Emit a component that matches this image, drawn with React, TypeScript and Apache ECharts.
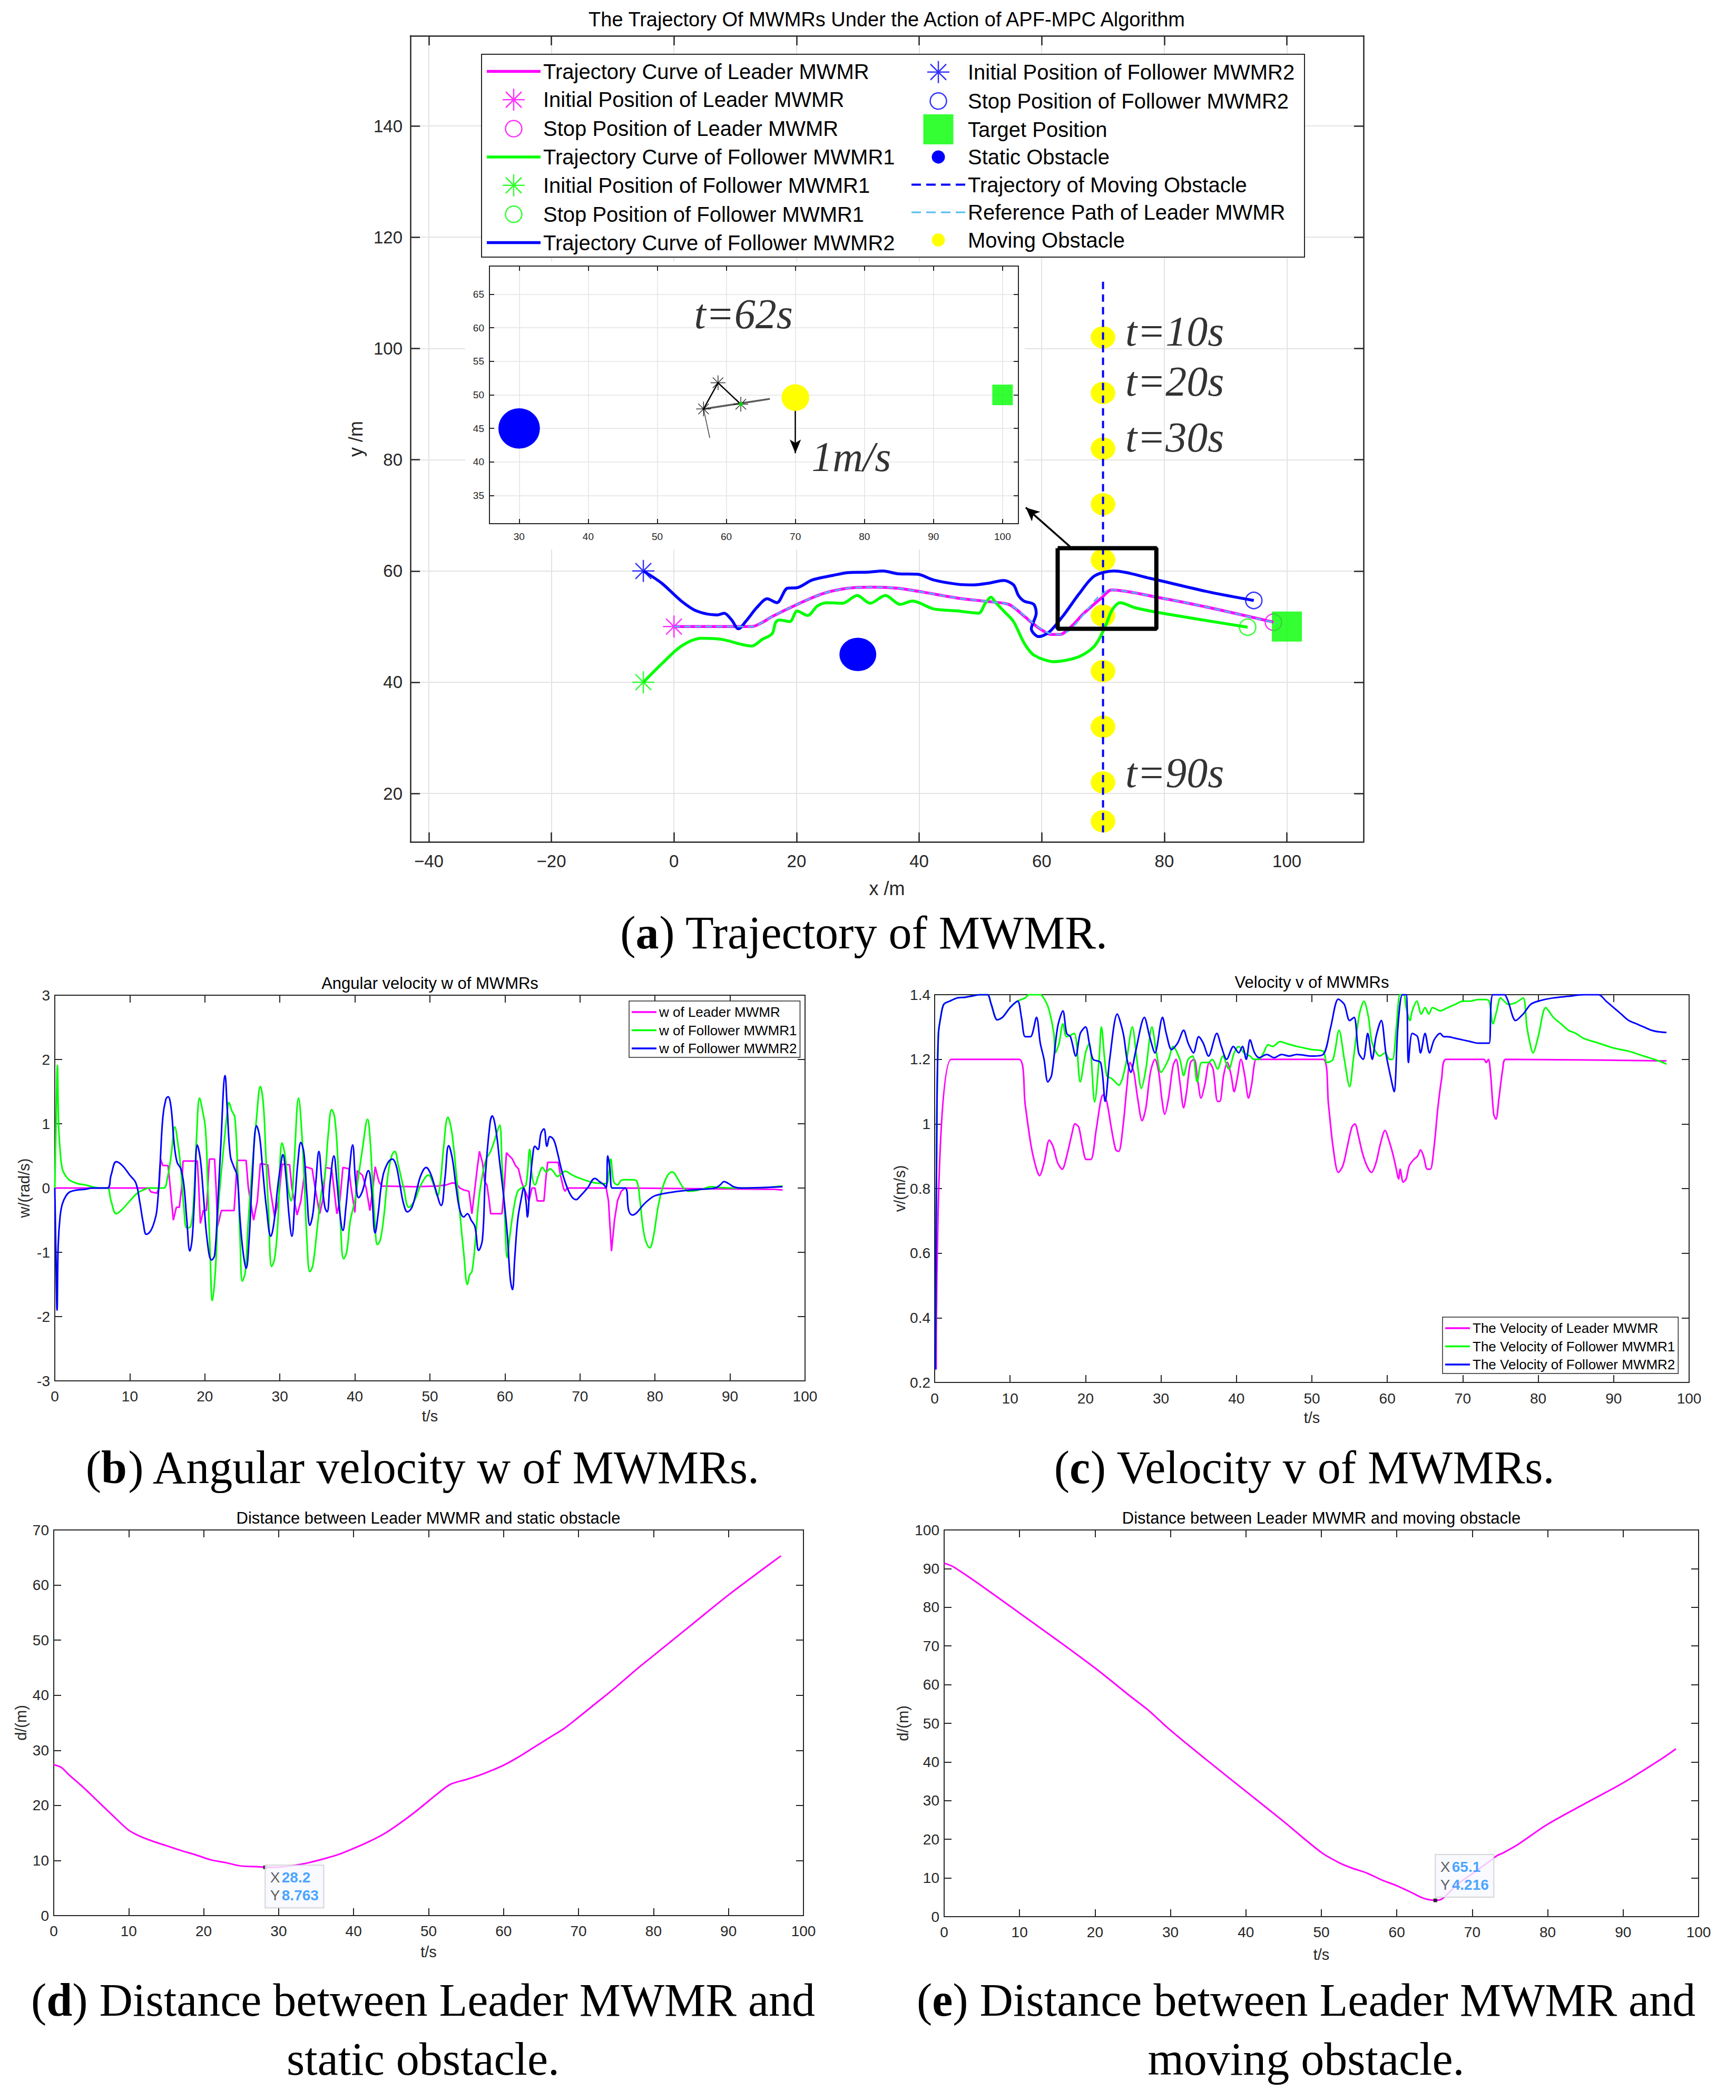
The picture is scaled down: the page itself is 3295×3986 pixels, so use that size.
import React, { useEffect, useRef } from 'react';
import * as echarts from 'echarts';

// ===================== DATA =====================
// (a) trajectories [x, y] in metres
const LEADER_PATH = [[0,50],[12.7,50],[14.5,50.8],[16,51.8],[20.1,54],[24.2,55.9],[28.3,56.9],[32.4,57.1],[36.5,56.9],[40.6,56.2],[46.4,55.1],[51.3,54.5],[54.6,54],[56.5,52.5],[58.5,50.6],[60.3,49.2],[61.5,48.6],[63,48.6],[64.9,50.1],[66.8,52.3],[69.8,55.2],[71.4,56.6],[79.2,55.2],[87.4,53.4],[97.8,50.8]];
const REF_PATH = [[0,50],[12.7,50],[14.5,50.8],[16,51.8],[20.1,54],[24.2,55.9],[28.3,56.9],[32.4,57.1],[36.5,56.9],[40.6,56.2],[46.4,55.1],[51.3,54.5],[54.6,54],[56.5,52.6],[58.5,50.7],[60.3,49.3],[61.5,48.7],[63,48.6],[71.4,56.6],[79.2,55.2],[87.4,53.4],[98.4,50.6]];
const F1_PATH = [[-5,40],[-2,43.3],[1.2,46.5],[4.5,47.9],[7.8,47.7],[12.7,46.5],[14.4,47.7],[16,48.7],[16.6,50.8],[17.2,51.2],[18.9,50.9],[20.1,52.8],[21.8,52],[23.4,53.7],[25,54.3],[27.5,54.2],[29.9,55.6],[32,54.2],[34.5,55.6],[36.9,54],[38.9,54.6],[42.3,53.2],[46.4,52.8],[49.7,52.4],[50.8,54.2],[51.7,55.3],[52.6,54.2],[53.8,52.8],[55.4,50.9],[57.1,47.1],[58.7,44.9],[62,43.7],[66.1,44.6],[68.6,46.5],[70.2,49.6],[71.5,53],[72.8,54.3],[75.2,53.4],[80.2,52.3],[93.6,49.9]];
const F2_PATH = [[-5,60],[-2,57.8],[1.2,54.6],[3.7,52.8],[7,52.1],[8.2,52.4],[9.4,51.2],[10.5,49.6],[11.9,51.2],[13.5,53.4],[15.2,55],[16.8,54.3],[18.5,56.9],[20.1,57],[22.6,58.4],[25.9,59.2],[28.3,59.7],[31.6,59.8],[34.1,60],[36.5,59.5],[39.8,59.4],[42.3,58.4],[46.4,57.6],[48.9,57.5],[51.3,57.8],[53.8,58.3],[55.4,57.5],[56.2,55.6],[57.1,54.6],[58.7,54],[59.1,52.4],[58.3,49.6],[59.5,48.2],[61.2,49],[63.6,52.1],[66.1,55.9],[68.6,59.1],[71.8,60],[77.6,58.7],[87.4,56.2],[94.6,54.7]];
const LEADER_START = [0, 50];
const LEADER_STOP = [97.8, 50.8];
const F1_START = [-5, 40];
const F1_STOP = [93.6, 49.9];
const F2_START = [-5, 60];
const F2_STOP = [94.6, 54.7];
const TARGET = [100, 50];
const STATIC_OBS = [30, 45];
const STATIC_OBS_R = 3;
const MOVING_OBS_X = 70;
const MOVING_OBS_Y = [102, 92, 82, 72, 62, 52, 42, 32, 22, 15];
const MOVING_OBS_R = 2;
const MOVING_TRAJ = [[70, 112], [70, 13]];
const TIME_LABELS = ['t=10s', 't=20s', 't=30s', 't=90s'];
const TIME_LABEL_POS = [[73.6, 103.1], [73.6, 94.1], [73.6, 84.0], [73.6, 23.7]];
const ZOOM_BOX = [[62.6, 64.1], [78.7, 64.1], [78.7, 49.6], [62.6, 49.6], [62.6, 64.1]];
const ZOOM_ARROW = [[64.6, 64.4], [57.4, 71.4]];
const A_X_TICKS = [-40, -20, 0, 20, 40, 60, 80, 100];
const A_Y_TICKS = [20, 40, 60, 80, 100, 120, 140];

// (a) inset at t = 62 s
const IN_X_TICKS = [30, 40, 50, 60, 70, 80, 90, 100];
const IN_Y_TICKS = [35, 40, 45, 50, 55, 60, 65];
const IN_YELLOW = [70, 49.6];
const IN_FORMATION = [[56.7, 47.9], [58.8, 51.8], [62.1, 48.6]];
const IN_HEADING = [[56.7, 47.9], [66.3, 49.4]];
const IN_HEADING_THIN = [[56.7, 47.9], [57.6, 43.6]];
const IN_ARROW = [[70, 49.4], [70, 41.3]];
const IN_LABELS = ['t=62s', '1m/s'];
const IN_LABEL_POS = [[55.3, 62.05], [72.3, 40.8]];

// (b) angular velocity [t, w]
const W_LEADER = [[0,0],[12.5,0],[12.8,-0.06],[13.6,-0.08],[13.9,0],[14.1,0.45],[14.4,0.35],[15.1,0.35],[15.4,0],[15.8,-0.5],[16.2,-0.3],[16.6,-0.3],[16.9,0],[17.1,0.42],[19.0,0.42],[19.2,0],[19.4,-0.55],[19.8,-0.35],[20.2,-0.35],[20.4,0],[20.6,0.45],[21.3,0.45],[21.5,0],[21.7,-0.6],[22.2,-0.35],[23.9,-0.35],[24.1,0],[24.3,0.43],[25.5,0.43],[25.8,0],[26.5,-0.5],[27.0,-0.2],[27.4,0.38],[28.4,0.36],[28.7,0],[29.3,-0.45],[29.8,-0.2],[30.3,0.37],[31.3,0.36],[31.6,0],[32.3,-0.42],[32.8,-0.2],[33.4,0.33],[34.3,0.3],[34.7,0],[35.3,-0.4],[35.7,-0.2],[36.1,0.32],[36.9,0.3],[37.2,0],[37.6,-0.4],[38.0,-0.2],[38.4,0.32],[39.2,0.3],[39.5,0],[40.0,-0.38],[40.3,0.27],[41.0,0.2],[41.5,0],[42.0,-0.35],[42.4,0],[42.7,0.33],[43.2,0.1],[43.6,0.03],[48,0.02],[51,0.03],[52.2,0.05],[53.0,0.08],[53.5,0.07],[54.0,0],[54.5,-0.03],[55.2,-0.05],[55.6,-0.4],[55.9,-0.1],[56.1,0.1],[56.3,0.3],[56.6,0.57],[57.0,0.4],[57.3,0.1],[57.6,0.05],[57.9,-0.2],[58.1,-0.4],[59.6,-0.4],[59.9,0],[60.2,0.55],[60.6,0.5],[61.0,0.45],[61.4,0.35],[61.8,0.3],[62.2,0.1],[62.5,0],[62.9,-0.1],[63.2,-0.2],[63.6,0],[64.0,0],[64.3,-0.2],[65.2,-0.2],[65.5,0.2],[65.7,0.4],[67.1,0.4],[67.4,0.2],[67.8,0],[68.0,-0.05],[68.3,0],[73.5,0],[73.8,-0.2],[74.2,-0.98],[74.6,-0.5],[75.0,-0.2],[75.5,-0.05],[76,0],[96,-0.02],[97,-0.03]];
const W_F1 = [[0,0],[0.2,1.2],[0.35,1.91],[0.5,1.0],[0.7,0.6],[1,0.3],[1.5,0.18],[2,0.12],[3,0.07],[4,0.05],[5,0.02],[6,0],[7,0],[7.5,-0.2],[8.2,-0.4],[9,-0.33],[10,-0.2],[11,-0.08],[12,-0.02],[12.5,0],[14.5,0],[15,0.15],[15.5,0.5],[16,0.95],[16.4,0.7],[16.8,0.3],[17.2,-0.3],[17.6,-0.62],[18.1,-0.6],[18.5,-0.2],[18.9,0.8],[19.3,1.4],[19.7,1.2],[20.1,0.9],[20.4,0],[20.7,-1.0],[21.0,-1.75],[21.4,-1.3],[21.8,-0.3],[22.4,0.5],[23.0,1.2],[23.2,1.33],[23.6,1.2],[24.0,1.1],[24.4,0.2],[24.7,-0.8],[25.0,-1.45],[25.4,-1.3],[25.8,-0.5],[26.3,0.3],[26.9,1.1],[27.4,1.58],[27.8,1.3],[28.1,0.6],[28.5,-0.4],[28.9,-1.22],[29.3,-1.1],[29.7,-0.6],[30.3,0.7],[30.7,0.5],[31.1,0],[31.5,-0.2],[31.9,0.4],[32.5,1.4],[32.9,0.9],[33.3,0],[33.6,-0.8],[34.0,-1.3],[34.4,-1.2],[35.0,-0.6],[35.5,-0.1],[36.0,0.2],[36.5,0.9],[36.9,1.22],[37.3,1.1],[37.7,0.5],[38.1,-0.6],[38.5,-1.1],[38.9,-1.0],[39.4,-0.5],[40.0,-0.2],[40.5,0.2],[41.0,0.6],[41.7,1.07],[42.0,0.8],[42.3,0.2],[42.7,-0.6],[43.0,-0.88],[43.4,-0.8],[43.9,-0.4],[44.4,0.2],[44.9,0.5],[45.3,0.57],[45.8,0.35],[46.5,0],[47.2,-0.3],[48.0,-0.18],[48.8,0.05],[49.8,0.2],[50.5,0.05],[51.0,-0.12],[51.4,0.1],[51.8,0.6],[52.4,1.1],[52.8,0.95],[53.2,0.6],[53.6,0.1],[54.0,-0.4],[54.5,-1.0],[55.0,-1.5],[55.3,-1.35],[55.6,-1.3],[56.0,-0.9],[56.5,-0.2],[57.0,0.2],[57.5,0.45],[58.0,0.55],[58.5,0.7],[58.9,0.85],[59.3,0.98],[59.6,0.4],[60.0,-0.5],[60.3,-1.08],[60.7,-0.7],[61.2,-0.3],[61.7,-0.05],[62.2,0],[62.8,0.05],[63.3,0.6],[63.6,0.2],[64.0,0.05],[64.5,0.2],[65.0,0.32],[65.5,0.25],[66.0,0.3],[66.5,0.25],[67.0,0.18],[67.5,0.22],[68.0,0.26],[69.0,0.2],[70.0,0.15],[71.0,0.11],[72.0,0.08],[73.5,0.07],[73.8,0.2],[74.1,0.45],[74.5,0.1],[75.0,0.05],[75.5,0.12],[76.0,0.13],[77.0,0.13],[77.6,0.1],[78.0,-0.2],[78.6,-0.75],[79.3,-0.93],[79.8,-0.75],[80.4,-0.3],[81.0,0],[81.7,0.2],[82.3,0.25],[83.0,0.15],[83.8,0],[84.5,-0.05],[85.5,-0.04],[86.5,-0.01],[87.5,0.02],[88.5,0.01],[90,0],[93,0],[95,0.01],[97,0.03]];
const W_F2 = [[0,0],[0.15,-1.0],[0.3,-1.9],[0.45,-0.9],[0.7,-0.45],[1,-0.25],[1.5,-0.12],[2,-0.06],[3,-0.03],[4,-0.02],[5,0],[7,0],[7.5,0.2],[8.2,0.41],[9,0.35],[10,0.2],[10.8,0.08],[11.3,-0.2],[11.8,-0.55],[12.2,-0.72],[12.7,-0.68],[13.2,-0.55],[13.6,-0.35],[14.0,0.3],[14.4,1.1],[14.8,1.38],[15.1,1.42],[15.5,1.25],[15.9,0.7],[16.3,0.4],[16.8,0.3],[17.2,0.05],[17.6,-0.5],[18.0,-0.98],[18.3,-0.8],[18.6,-0.2],[19.0,0.67],[19.4,0.45],[19.8,-0.1],[20.3,-0.8],[20.9,-1.12],[21.3,-1.05],[21.7,-0.3],[22.1,0.6],[22.7,1.75],[23.0,1.2],[23.4,0.5],[23.9,0.32],[24.3,0.2],[24.7,-0.5],[25.1,-1.0],[25.5,-1.25],[25.9,-0.8],[26.3,0.1],[26.9,0.97],[27.3,0.8],[27.7,0.3],[28.2,-0.3],[28.8,-0.75],[29.2,-0.55],[29.7,0],[30.1,0.35],[30.4,0.52],[30.8,0.2],[31.2,-0.4],[31.6,-0.75],[32.0,-0.2],[32.4,0.4],[32.8,0.71],[33.2,0.55],[33.6,-0.1],[34.0,-0.58],[34.4,-0.4],[34.8,0.1],[35.2,0.57],[35.6,0.1],[36.0,-0.3],[36.3,-0.37],[36.7,0.1],[37.2,0.5],[37.6,0.1],[38.0,-0.4],[38.4,-0.66],[38.8,-0.3],[39.2,0.2],[39.7,0.67],[40.1,0.1],[40.5,-0.15],[41.0,-0.05],[41.8,0.27],[42.2,0],[42.7,-0.7],[43.1,-0.4],[43.6,0.1],[44.2,0.35],[45.0,0.45],[45.5,0.35],[46.0,0.05],[46.5,-0.25],[47.0,-0.37],[47.6,-0.3],[48.2,-0.05],[48.8,0.2],[49.5,0.32],[50.1,0.22],[50.7,0],[51.5,-0.27],[52.0,0.15],[52.5,0.66],[53.0,0.45],[53.5,0],[54.0,-0.35],[54.5,-0.45],[55.0,-0.4],[55.5,-0.5],[56.0,-0.6],[56.5,-0.97],[57.0,-0.8],[57.4,0.2],[58.0,1.0],[58.3,1.12],[58.8,0.9],[59.3,0.4],[59.8,-0.1],[60.3,-0.7],[60.7,-1.4],[61.0,-1.58],[61.3,-1.1],[61.7,-0.5],[62.2,-0.15],[62.5,0],[62.8,-0.2],[63.0,-0.45],[63.3,0],[63.7,0.5],[64.0,0.65],[64.4,0.6],[64.8,0.85],[65.2,0.92],[65.6,0.65],[66.0,0.8],[66.5,0.75],[67.0,0.55],[67.5,0.3],[68.0,0.1],[68.5,-0.05],[69.0,-0.15],[69.5,-0.18],[70.0,-0.13],[71.0,0],[72.0,0.15],[72.6,0.1],[73.2,0.05],[73.5,0],[73.7,0.5],[74.0,0.3],[74.3,0],[76.0,0],[76.5,-0.35],[77.0,-0.42],[77.6,-0.38],[78.3,-0.28],[79.0,-0.2],[80.0,-0.12],[82.0,-0.07],[84.0,-0.04],[86.0,-0.02],[88.0,0],[88.7,0.05],[89.2,0.1],[89.8,0.07],[90.5,0.02],[91.5,0],[97,0.02]];

// (c) velocity [t, v]
const V_LEADER = [[0.2,0.24],[2.2,1.2],[11.2,1.2],[12,1.06],[12.8,0.93],[13.5,0.86],[13.9,0.84],[14.5,0.88],[15.2,0.95],[15.7,0.93],[16.3,0.88],[16.9,0.86],[17.6,0.91],[18.2,0.97],[18.6,1.0],[19.1,0.99],[19.6,0.93],[20.1,0.89],[20.7,0.89],[21.4,0.98],[22.0,1.07],[22.3,1.09],[22.8,1.07],[23.4,0.99],[24.0,0.92],[24.4,0.915],[25.0,1.0],[25.5,1.12],[25.9,1.19],[26.4,1.16],[26.9,1.08],[27.5,1.01],[28.0,1.05],[28.6,1.16],[29.2,1.2],[29.7,1.16],[30.1,1.08],[30.5,1.03],[31.0,1.08],[31.6,1.18],[32.0,1.2],[32.5,1.13],[33.0,1.05],[33.4,1.1],[33.9,1.19],[34.4,1.2],[34.9,1.13],[35.3,1.08],[35.8,1.12],[36.4,1.19],[36.9,1.17],[37.5,1.07],[37.8,1.07],[38.3,1.15],[38.8,1.19],[39.3,1.15],[39.7,1.1],[40.1,1.14],[40.6,1.2],[41.1,1.15],[41.6,1.08],[42.0,1.12],[42.6,1.2],[43.0,1.2],[51.5,1.2],[52.2,1.06],[52.8,0.93],[53.5,0.85],[54.1,0.87],[54.7,0.93],[55.3,0.99],[55.7,1.0],[56.2,0.96],[56.7,0.91],[57.3,0.87],[57.9,0.85],[58.5,0.88],[59.1,0.94],[59.7,0.98],[60.2,0.95],[60.7,0.91],[61.1,0.87],[61.5,0.83],[61.7,0.86],[62.1,0.82],[62.5,0.83],[62.9,0.87],[63.5,0.89],[64.0,0.9],[64.4,0.92],[64.8,0.9],[65.3,0.86],[65.7,0.86],[66.2,0.93],[66.7,1.05],[67.2,1.14],[67.8,1.2],[72.8,1.2],[73.1,1.19],[73.4,1.2],[73.7,1.15],[74.1,1.03],[74.4,1.015],[74.8,1.08],[75.3,1.17],[75.7,1.2],[97,1.195]];
const V_F1 = [[0.1,0.24],[0.3,1.04],[0.5,1.28],[0.8,1.33],[1.2,1.37],[2,1.38],[3,1.39],[4,1.392],[5,1.396],[6,1.4],[7,1.4],[7.5,1.37],[8.3,1.322],[9,1.33],[10,1.36],[11,1.38],[12,1.39],[12.5,1.4],[14,1.4],[14.7,1.38],[15.2,1.35],[15.8,1.28],[16,1.22],[16.5,1.25],[17,1.31],[17.5,1.27],[18.5,1.28],[19.3,1.13],[20,1.22],[20.5,1.25],[21.2,1.068],[21.8,1.2],[22.1,1.3],[22.8,1.15],[23.5,1.14],[24.4,1.12],[25.3,1.18],[26.2,1.3],[26.8,1.2],[27.4,1.11],[28,1.17],[28.8,1.3],[29.4,1.22],[30,1.16],[31,1.2],[31.6,1.24],[32.5,1.2],[33,1.15],[33.6,1.2],[34.2,1.21],[34.8,1.13],[35.4,1.19],[36.3,1.19],[36.8,1.2],[37.5,1.17],[38.2,1.21],[39,1.17],[39.7,1.22],[40.3,1.24],[41,1.22],[41.8,1.21],[42.3,1.2],[43,1.2],[43.6,1.22],[44.2,1.245],[44.8,1.24],[45.8,1.255],[46.5,1.25],[47.2,1.245],[48,1.24],[49,1.235],[50,1.23],[51.5,1.225],[52,1.19],[52.8,1.2],[53.6,1.29],[54.3,1.2],[55,1.115],[55.5,1.2],[56.3,1.34],[56.9,1.38],[57.5,1.33],[58,1.25],[59,1.21],[59.7,1.22],[60.3,1.2],[60.7,1.2],[61.2,1.3],[61.7,1.4],[62.2,1.4],[62.5,1.36],[63,1.32],[63.3,1.35],[63.9,1.38],[64.5,1.34],[65,1.36],[65.5,1.34],[66,1.36],[67,1.35],[68,1.36],[69,1.37],[70,1.38],[71,1.38],[72,1.385],[73,1.385],[73.5,1.38],[74,1.31],[74.5,1.35],[75,1.39],[75.5,1.38],[76,1.37],[77,1.375],[78,1.39],[78.5,1.3],[79,1.24],[79.3,1.22],[80,1.27],[81,1.36],[82,1.33],[83,1.31],[84,1.29],[85,1.28],[86,1.265],[88,1.25],[90,1.235],[92,1.225],[94,1.21],[96,1.195],[97,1.185]];
const V_F2 = [[0.1,0.24],[0.3,1.04],[0.5,1.28],[0.8,1.33],[1.2,1.37],[2,1.38],[3,1.39],[4,1.392],[5,1.396],[6,1.4],[7,1.4],[7.5,1.37],[8.3,1.322],[9,1.33],[10,1.36],[11,1.38],[11.5,1.33],[12,1.27],[12.7,1.27],[13.5,1.33],[14,1.25],[14.5,1.2],[15,1.13],[15.5,1.15],[16.3,1.3],[17,1.35],[17.5,1.28],[18,1.27],[18.7,1.21],[19.3,1.28],[20,1.3],[20.5,1.25],[21,1.2],[22,1.19],[22.6,1.07],[23.2,1.2],[24.2,1.34],[25,1.28],[25.5,1.2],[26,1.16],[26.6,1.22],[27.8,1.33],[28.5,1.27],[29.2,1.22],[30.2,1.33],[30.7,1.28],[31.4,1.23],[32.2,1.25],[33,1.29],[33.6,1.25],[34.3,1.22],[35,1.27],[35.6,1.25],[36.3,1.21],[37.4,1.28],[38,1.24],[38.7,1.2],[39.6,1.24],[40.3,1.22],[40.8,1.24],[41.3,1.2],[41.8,1.26],[42.4,1.22],[43,1.205],[44,1.215],[45,1.205],[46,1.215],[47,1.21],[48,1.215],[50,1.21],[51.5,1.215],[52.5,1.3],[53.5,1.386],[54.3,1.37],[55,1.32],[55.6,1.33],[56.2,1.22],[56.8,1.2],[57.4,1.28],[58,1.2],[58.5,1.27],[59.2,1.32],[59.8,1.22],[60.4,1.15],[60.9,1.1],[61.4,1.3],[62,1.4],[62.5,1.4],[62.8,1.19],[63.3,1.28],[64,1.27],[64.4,1.22],[65,1.28],[65.6,1.22],[66.2,1.26],[67,1.28],[67.5,1.27],[68,1.27],[69,1.265],[70,1.26],[71,1.255],[72,1.25],[73,1.25],[73.5,1.25],[74,1.4],[75.5,1.4],[76,1.38],[77,1.32],[78,1.34],[79,1.37],[80,1.38],[82,1.39],[84,1.395],[86,1.4],[88,1.4],[89,1.38],[90,1.36],[91,1.34],[92,1.32],[93,1.31],[94,1.3],[95,1.29],[96,1.285],[97,1.283]];

// (d) distance to static obstacle [t, d]
const D_STATIC = [[0,27.4],[1,26.9],[2,25.6],[4,23.2],[6,20.6],[8,18.0],[10,15.5],[11.5,14.4],[13,13.6],[15,12.7],[17,11.8],[19,11.0],[21,10.1],[23,9.6],[25,9.0],[27,8.9],[28.2,8.763],[30,8.8],[32,9.1],[34,9.6],[36,10.3],[38,11.1],[40,12.2],[42,13.4],[44,14.8],[46,16.6],[48,18.6],[50,20.8],[52,23.0],[53,23.9],[55,24.7],[57,25.6],[60,27.3],[62,28.8],[64,30.5],[66,32.2],[68,33.9],[70,36.0],[72,38.2],[75,41.5],[78,45.0],[80,47.2],[85,52.7],[90,58.2],[95,63.3],[97,65.3]];
const D_STATIC_TIP = [28.2, 8.763];
// (e) distance to moving obstacle [t, d]
const D_MOVING = [[0,91.4],[1,90.7],[2,89.5],[5,85.5],[10,78.5],[15,71.5],[20,64.3],[25,56.5],[27,53.5],[30,48.2],[35,40.2],[40,32.4],[45,24.6],[50,16.6],[52.5,13.8],[54,12.6],[56,11.3],[58,9.5],[60,8.0],[62,6.2],[63,5.2],[64,4.5],[65.1,4.216],[66,4.6],[68,8.3],[70,11.1],[72,13.9],[73.3,15.8],[74,16.4],[76,18.6],[80,23.9],[85,29.3],[90,34.6],[95,40.7],[97,43.4]];
const D_MOVING_TIP = [65.1, 4.216];

// ===================== STYLE / LAYOUT =====================
const W = 3295, H = 3986;
const AXC = '#262626';
const SANS = "'Liberation Sans', Arial, Helvetica, sans-serif";
const SERIF = "'Liberation Serif', 'Times New Roman', serif";
const C_MAG = '#ff00ff', C_GRN = '#00ff00', C_BLU = '#0000ff', C_YEL = '#ffff00', C_REF = '#4dbeee';
const CLEAR = 'rgba(0,0,0,0)';

const STAR = 'M0,-21L0,21M-21,0L21,0M-15,-15L15,15M-15,15L15,-15';
const PAD = 'M-28.5,-28.5M28.5,28.5';
const SYM_ASTER = 'path://' + STAR;
const ICON_ASTER = 'path://' + PAD + STAR;
const ICON_RING = 'path://' + PAD + 'M15.5,0A15.5,15.5,0,1,1,-15.5,0A15.5,15.5,0,1,1,15.5,0Z';
const ICON_DOT = 'path://' + PAD + 'M12.5,0A12.5,12.5,0,1,1,-12.5,0A12.5,12.5,0,1,1,12.5,0Z';
const ICON_SQUARE = 'path://M-28.5,-28.5L28.5,-28.5L28.5,28.5L-28.5,28.5Z';
const seg = (a, b, hw) => `M${a},${-hw}L${b},${-hw}L${b},${hw}L${a},${hw}Z`;
const ICON_LINE_A = 'path://M0,-28.5M102,28.5' + seg(0, 102, 2.75);
const ICON_DASH_A = 'path://M0,-28.5M102,28.5' + seg(0, 18, 2) + seg(28, 46, 2) + seg(56, 74, 2) + seg(84, 102, 2);
const ICON_DASH_REF = 'path://M0,-28.5M102,28.5' + seg(0, 18, 1.6) + seg(28, 46, 1.6) + seg(56, 74, 1.6) + seg(84, 102, 1.6);
const ICON_LINE_S = 'path://M0,-13M47,13' + seg(0, 47, 1.8);

const GRIDS = [
  { left: 779, top: 68, width: 1809, height: 1530 },   // a main
  { left: 929, top: 505, width: 1004, height: 489 },   // a inset
  { left: 104, top: 1889, width: 1424, height: 732 },  // b
  { left: 1774, top: 1888, width: 1432, height: 736 }, // c
  { left: 102, top: 2904, width: 1423, height: 732 },  // d
  { left: 1792, top: 2904, width: 1432, height: 734 }, // e
];

function mkAxis(dim, gi, main, c) {
  const isX = dim === 'x';
  const ticks = isX ? c.xTicks : c.yTicks;
  const ax: any = {
    type: 'value', gridIndex: gi,
    position: isX ? (main ? 'bottom' : 'top') : (main ? 'left' : 'right'),
    min: isX ? c.xMin : c.yMin, max: isX ? c.xMax : c.yMax,
    z: c.z || 0, silent: true,
    axisLine: { show: true, onZero: false, lineStyle: { color: AXC, width: c.lw } },
    axisTick: { show: true, inside: true, length: c.tick, lineStyle: { color: AXC, width: c.lw } },
    axisLabel: {
      show: main, color: AXC, fontSize: c.fs, fontFamily: SANS, margin: isX ? c.xMargin : c.yMargin,
      showMinLabel: true, showMaxLabel: true, hideOverlap: false,
      formatter: (v) => (v < 0 && c.minus ? '\u2212' + Math.abs(v) : String(+v.toFixed(4))),
    },
    splitLine: { show: main && !!c.grid, lineStyle: { color: c.gridColor || '#e3e3e3', width: c.gridW || 2 } },
  };
  if (ticks) { ax.axisTick.customValues = ticks; ax.axisLabel.customValues = ticks; }
  else ax.interval = isX ? c.xInterval : c.yInterval;
  const name = isX ? c.xName : c.yName;
  if (main && name) {
    ax.name = name; ax.nameLocation = 'middle';
    ax.nameGap = isX ? c.xNameGap : c.yNameGap;
    ax.nameTextStyle = { fontSize: c.nameFs, fontFamily: SANS, color: AXC };
  }
  return ax;
}

const AXES = [
  { xMin: -43, xMax: 112.5, xTicks: A_X_TICKS, yMin: 11.3, yMax: 156.2, yTicks: A_Y_TICKS, lw: 2.5, tick: 18, fs: 33, xMargin: 20, yMargin: 15, grid: true, minus: true, xName: 'x /m', yName: 'y /m', xNameGap: 70, yNameGap: 86, nameFs: 36 },
  { xMin: 25.7, xMax: 102.3, xTicks: IN_X_TICKS, yMin: 30.8, yMax: 69.2, yTicks: IN_Y_TICKS, lw: 2, tick: 9, fs: 19, xMargin: 15, yMargin: 10, grid: true, gridW: 1.5, z: 5 },
  { xMin: 0, xMax: 100, xInterval: 10, yMin: -3, yMax: 3, yInterval: 1, lw: 2, tick: 14, fs: 28, xMargin: 15, yMargin: 9, xName: 't/s', yName: 'w/(rad/s)', xNameGap: 52, yNameGap: 44, nameFs: 29 },
  { xMin: 0, xMax: 100, xInterval: 10, yMin: 0.2, yMax: 1.4, yInterval: 0.2, lw: 2, tick: 14, fs: 28, xMargin: 16, yMargin: 8, xName: 't/s', yName: 'v/(m/s)', xNameGap: 52, yNameGap: 52, nameFs: 29 },
  { xMin: 0, xMax: 100, xInterval: 10, yMin: 0, yMax: 70, yInterval: 10, lw: 2, tick: 14, fs: 28, xMargin: 15, yMargin: 9, xName: 't/s', yName: 'd/(m)', xNameGap: 54, yNameGap: 48, nameFs: 29 },
  { xMin: 0, xMax: 100, xInterval: 10, yMin: 0, yMax: 100, yInterval: 10, lw: 2, tick: 14, fs: 28, xMargin: 15, yMargin: 9, xName: 't/s', yName: 'd/(m)', xNameGap: 57, yNameGap: 64, nameFs: 29 },
];

function lineS(name, data, color, width, gi, extra: any = {}) {
  return {
    type: 'line', name, data, xAxisIndex: gi * 2, yAxisIndex: gi * 2, symbol: 'none', showSymbol: false,
    silent: true, lineStyle: { color, width, type: 'solid' }, itemStyle: { color }, ...extra,
  };
}
function scatterS(name, data, symbol, size, color, filled, gi, extra: any = {}) {
  return {
    type: 'scatter', name, data, xAxisIndex: gi * 2, yAxisIndex: gi * 2, symbol, symbolSize: size, silent: true,
    itemStyle: filled ? { color } : { color: CLEAR, borderColor: color, borderWidth: 2.5 }, ...extra,
  };
}
function ellipseS(name, data, r, color, gi, z = 2) {
  return {
    type: 'custom', name, data, xAxisIndex: gi * 2, yAxisIndex: gi * 2, silent: true, z,
    itemStyle: { color },
    renderItem: (params, api) => {
      const c = api.coord([api.value(0), api.value(1)]);
      const s = api.size([r, r]);
      return { type: 'ellipse', shape: { cx: c[0], cy: c[1], rx: s[0], ry: s[1] }, style: { fill: color } };
    },
  };
}
function textS(name, names, pos, gi, z = 2) {
  return {
    type: 'scatter', name, xAxisIndex: gi * 2, yAxisIndex: gi * 2, silent: true, z,
    data: pos.map((p, i) => ({ value: p, name: names[i] })), symbolSize: 1, itemStyle: { color: CLEAR },
    label: { show: true, position: 'right', distance: 0, formatter: '{b}', fontFamily: SERIF, fontStyle: 'italic', fontSize: 80, color: '#000' },
  };
}
function tipS(name, pt, gi, below) {
  return {
    type: 'scatter', name, xAxisIndex: gi * 2, yAxisIndex: gi * 2, silent: true, z: 5,
    data: [pt], symbol: 'rect', symbolSize: 7, itemStyle: { color: '#000' },
    label: {
      show: true, position: below ? [4, 0] : [4, -3], align: 'left', verticalAlign: below ? 'top' : 'bottom',
      formatter: (p) => `{k|X} {v|${p.value[0]}}\n{k|Y} {v|${p.value[1]}}`,
      backgroundColor: '#f8f9ff', borderColor: '#c4c4c4', borderWidth: 1.5, padding: [6, 9, 6, 9],
      rich: {
        k: { fontSize: 28, color: '#333', fontFamily: SANS, lineHeight: 34 },
        v: { fontSize: 28, color: '#1a8cff', fontWeight: 'bold', fontFamily: SANS, lineHeight: 34 },
      },
    },
  };
}

function buildOption() {
  const xAxis: any[] = [], yAxis: any[] = [];
  AXES.forEach((c, gi) => {
    xAxis.push(mkAxis('x', gi, true, c), mkAxis('x', gi, false, c));
    yAxis.push(mkAxis('y', gi, true, c), mkAxis('y', gi, false, c));
  });

  const titleStyle = (fs) => ({ fontSize: fs, fontFamily: SANS, fontWeight: 'normal', color: '#000' });
  const cap = (text, cx, cy) => ({
    text, left: cx, top: cy, textAlign: 'center', textVerticalAlign: 'middle', padding: 0,
    textStyle: { fontSize: 88, fontFamily: SERIF, fontWeight: 'normal', color: '#000', lineHeight: 112,
      rich: { b: { fontSize: 88, fontFamily: SERIF, fontWeight: 'bold', color: '#000', lineHeight: 112 } } },
  });
  const chartTitle = (text, cx, cy, fs) => ({ text, left: cx, top: cy, textAlign: 'center', textVerticalAlign: 'middle', padding: 0, textStyle: titleStyle(fs) });

  const title = [
    chartTitle('The Trajectory Of MWMRs Under the Action of APF-MPC Algorithm', 1683, 37, 38),
    chartTitle('Angular velocity w of MWMRs', 816, 1866, 31),
    chartTitle('Velocity v of MWMRs', 2490, 1864, 31),
    chartTitle('Distance between Leader MWMR and static obstacle', 813, 2881, 31),
    chartTitle('Distance between Leader MWMR and moving obstacle', 2508, 2881, 31),
    cap('({b|a}) Trajectory of MWMR.', 1640, 1770),
    cap('({b|b}) Angular velocity w of MWMRs.', 803, 2785),
    cap('({b|c}) Velocity v of MWMRs.', 2476, 2785),
    cap('({b|d}) Distance between Leader MWMR and\nstatic obstacle.', 803, 3852),
    cap('({b|e}) Distance between Leader MWMR and\nmoving obstacle.', 2479, 3852),
  ];

  const hollow = (c) => ({ color: CLEAR, borderColor: c, borderWidth: 2.5 });
  const solid = (c) => ({ color: c, borderWidth: 0 });
  const legA = { orient: 'vertical', itemWidth: 102, itemHeight: 57, itemGap: -4.5, padding: 0, selectedMode: false, z: 5,
    textStyle: { fontSize: 40, fontFamily: SANS, color: '#000' } };
  const legSmall = { orient: 'vertical', itemWidth: 47, itemHeight: 26, itemGap: 8.5, padding: [8, 6, 4, 5], selectedMode: false,
    backgroundColor: '#fff', borderColor: AXC, borderWidth: 1.5, borderRadius: 0, z: 5,
    textStyle: { fontSize: 26, fontFamily: SANS, color: '#000' } };
  const legend = [
    { ...legA, left: 924, top: 107, data: [
      { name: 'Trajectory Curve of Leader MWMR', icon: ICON_LINE_A, itemStyle: solid(C_MAG) },
      { name: 'Initial Position of Leader MWMR', icon: ICON_ASTER, itemStyle: hollow(C_MAG) },
      { name: 'Stop Position of Leader MWMR', icon: ICON_RING, itemStyle: hollow(C_MAG) },
      { name: 'Trajectory Curve of Follower MWMR1', icon: ICON_LINE_A, itemStyle: solid(C_GRN) },
      { name: 'Initial Position of Follower MWMR1', icon: ICON_ASTER, itemStyle: hollow(C_GRN) },
      { name: 'Stop Position of Follower MWMR1', icon: ICON_RING, itemStyle: hollow(C_GRN) },
      { name: 'Trajectory Curve of Follower MWMR2', icon: ICON_LINE_A, itemStyle: solid(C_BLU) },
    ] },
    { ...legA, left: 1730, top: 107, data: [
      { name: 'Initial Position of Follower MWMR2', icon: ICON_ASTER, itemStyle: hollow(C_BLU) },
      { name: 'Stop Position of Follower MWMR2', icon: ICON_RING, itemStyle: hollow(C_BLU) },
      { name: 'Target Position', icon: ICON_SQUARE, itemStyle: solid(C_GRN) },
      { name: 'Static Obstacle', icon: ICON_DOT, itemStyle: solid(C_BLU) },
      { name: 'Trajectory of Moving Obstacle', icon: ICON_DASH_A, itemStyle: solid(C_BLU) },
      { name: 'Reference Path of Leader MWMR', icon: ICON_DASH_REF, itemStyle: solid(C_REF) },
      { name: 'Moving Obstacle', icon: ICON_DOT, itemStyle: solid(C_YEL) },
    ] },
    { ...legSmall, left: 1194, top: 1900, data: [
      { name: 'w of Leader MWMR', icon: ICON_LINE_S, itemStyle: solid(C_MAG) },
      { name: 'w of Follower MWMR1', icon: ICON_LINE_S, itemStyle: solid(C_GRN) },
      { name: 'w of Follower MWMR2', icon: ICON_LINE_S, itemStyle: solid(C_BLU) },
    ] },
    { ...legSmall, left: 2738, top: 2500, data: [
      { name: 'The Velocity of Leader MWMR', icon: ICON_LINE_S, itemStyle: solid(C_MAG) },
      { name: 'The Velocity of Follower MWMR1', icon: ICON_LINE_S, itemStyle: solid(C_GRN) },
      { name: 'The Velocity of Follower MWMR2', icon: ICON_LINE_S, itemStyle: solid(C_BLU) },
    ] },
  ];

  const movingObs = MOVING_OBS_Y.map((y) => [MOVING_OBS_X, y]);

  const series: any[] = [
    // ---- (a) main ----
    lineS('Trajectory Curve of Leader MWMR', LEADER_PATH, C_MAG, 5.5, 0, { smooth: 0.3 }),
    lineS('Trajectory Curve of Follower MWMR1', F1_PATH, C_GRN, 5.5, 0, { smooth: 0.3 }),
    lineS('Trajectory Curve of Follower MWMR2', F2_PATH, C_BLU, 5.5, 0, { smooth: 0.3 }),
    lineS('Reference Path of Leader MWMR', REF_PATH, C_REF, 3, 0, { smooth: 0.3, lineStyle: { color: C_REF, width: 3, type: [12, 8] } }),
    scatterS('Initial Position of Leader MWMR', [LEADER_START], SYM_ASTER, 42, C_MAG, false, 0),
    scatterS('Stop Position of Leader MWMR', [LEADER_STOP], 'circle', 31, C_MAG, false, 0),
    scatterS('Initial Position of Follower MWMR1', [F1_START], SYM_ASTER, 42, C_GRN, false, 0),
    scatterS('Stop Position of Follower MWMR1', [F1_STOP], 'circle', 31, C_GRN, false, 0),
    scatterS('Initial Position of Follower MWMR2', [F2_START], SYM_ASTER, 42, C_BLU, false, 0),
    scatterS('Stop Position of Follower MWMR2', [F2_STOP], 'circle', 31, C_BLU, false, 0),
    scatterS('Target Position', [TARGET], 'rect', 57, C_GRN, true, 0),
    ellipseS('Static Obstacle', [STATIC_OBS], STATIC_OBS_R, C_BLU, 0),
    ellipseS('Moving Obstacle', movingObs, MOVING_OBS_R, C_YEL, 0),
    lineS('Trajectory of Moving Obstacle', MOVING_TRAJ, C_BLU, 4, 0, { lineStyle: { color: C_BLU, width: 4, type: [14, 10] } }),
    lineS('zoom-box', ZOOM_BOX, '#000', 8, 0, {
      z: 3,
      markLine: {
        silent: true, symbol: ['none', 'arrow'], symbolSize: [18, 26], label: { show: false },
        lineStyle: { color: '#000', width: 3.5, type: 'solid' },
        data: [[{ coord: ZOOM_ARROW[0] }, { coord: ZOOM_ARROW[1] }]],
      },
    }),
    textS('time-labels', TIME_LABELS, TIME_LABEL_POS, 0),
    // ---- (a) inset ----
    ellipseS('inset-static', [STATIC_OBS], STATIC_OBS_R, C_BLU, 1, 6),
    ellipseS('inset-moving', [IN_YELLOW], MOVING_OBS_R, C_YEL, 1, 6),
    scatterS('inset-target', [TARGET], 'rect', 39, C_GRN, true, 1, { z: 6 }),
    lineS('inset-heading', IN_HEADING, '#5a5a5a', 3.5, 1, { z: 6 }),
    lineS('inset-heading-thin', IN_HEADING_THIN, '#444', 1.5, 1, { z: 6 }),
    lineS('inset-formation', IN_FORMATION, '#000', 2.5, 1, {
      z: 7,
      markLine: {
        silent: true, symbol: ['none', 'arrow'], symbolSize: [16, 26], label: { show: false },
        lineStyle: { color: '#000', width: 2.5, type: 'solid' },
        data: [[{ coord: IN_ARROW[0] }, { coord: IN_ARROW[1] }]],
      },
    }),
    scatterS('inset-robots', IN_FORMATION, SYM_ASTER, 28, '#000', false, 1, { z: 7, itemStyle: { color: CLEAR, borderColor: '#000', borderWidth: 1.5 } }),
    scatterS('inset-robot-dot', [IN_FORMATION[2]], 'circle', 8, C_GRN, true, 1, { z: 8 }),
    textS('inset-labels', IN_LABELS, IN_LABEL_POS, 1, 8),
    // ---- (b) ----
    lineS('w of Leader MWMR', W_LEADER, C_MAG, 3, 2),
    lineS('w of Follower MWMR1', W_F1, C_GRN, 3, 2, { smooth: 0.4 }),
    lineS('w of Follower MWMR2', W_F2, C_BLU, 3, 2, { smooth: 0.4 }),
    // ---- (c) ----
    lineS('The Velocity of Leader MWMR', V_LEADER, C_MAG, 3, 3, { smooth: 0.3 }),
    lineS('The Velocity of Follower MWMR1', V_F1, C_GRN, 3, 3, { smooth: 0.3 }),
    lineS('The Velocity of Follower MWMR2', V_F2, C_BLU, 3, 3, { smooth: 0.3 }),
    // ---- (d) ----
    lineS('d-static', D_STATIC, C_MAG, 3, 4, { smooth: 0.3 }),
    tipS('d-static-tip', D_STATIC_TIP, 4, true),
    // ---- (e) ----
    lineS('d-moving', D_MOVING, C_MAG, 3, 5, { smooth: 0.3 }),
    tipS('d-moving-tip', D_MOVING_TIP, 5, false),
  ];

  return {
    animation: false,
    backgroundColor: '#ffffff',
    textStyle: { fontFamily: SANS },
    title,
    legend,
    grid: GRIDS.map((g) => ({ ...g, containLabel: false, outerBoundsMode: 'none', show: false })),
    xAxis,
    yAxis,
    graphic: {
      elements: [
        { type: 'rect', z: 3, silent: true, shape: { x: 914, y: 103, width: 1562, height: 385 }, style: { fill: '#fff', stroke: AXC, lineWidth: 2 } },
        { type: 'rect', z: 3, silent: true, shape: { x: 883, y: 496, width: 1062, height: 547 }, style: { fill: '#fff' } },
      ],
    },
    series,
  };
}

export default function App() {
  const ref = useRef<HTMLDivElement>(null);
  useEffect(() => {
    if (!ref.current) return;
    const chart = echarts.init(ref.current, undefined, { renderer: 'svg', width: W, height: H });
    chart.setOption(buildOption() as any);
    return () => chart.dispose();
  }, []);
  return <div ref={ref} style={{ position: 'absolute', left: 0, top: 0, width: W, height: H, background: '#fff' }} />;
}
